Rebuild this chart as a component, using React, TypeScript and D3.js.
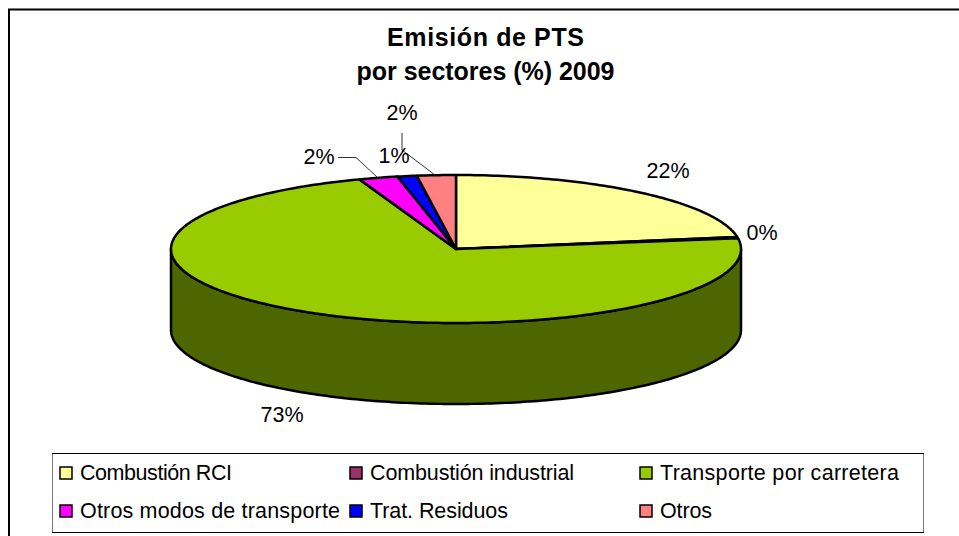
import React from "react";
import * as d3 from "d3";

const categories = ["Combustión RCI", "Combustión industrial", "Transporte por carretera", "Otros modos de transporte", "Trat. Residuos", "Otros"];
const values = [22.4, 0.3, 71.8, 2.2, 1.1, 2.2];
const colors = ["#FFFF99", "#993366", "#99CC00", "#FF00FF", "#0000FF", "#FF8080"];
const valueLabels = ["22%", "0%", "73%", "2%", "1%", "2%"];
const labelPositions: [number, number][] = [[668, 178], [762, 240], [282, 422], [319, 164], [394, 163], [402, 120]];
const titleLines = ["Emisión de PTS", "por sectores (%) 2009"];
const titleWidths = [197, 258];
const legendWidths = [152, 204, 239, 260, 138, 52];
const sideColor = "#4D6600";

const cx = 456, cy = 249, rx = 285, ry = 74, depth = 81;
const font = "'Liberation Sans', Arial, sans-serif";

const arcs = d3.pie<number>().sort(null)(values);
const px = d3.scaleLinear().domain([-1, 1]).range([cx - rx, cx + rx]);
const py = d3.scaleLinear().domain([-1, 1]).range([cy - ry, cy + ry]);
const pt = (a: number, dy = 0): [number, number] => [px(Math.sin(a)), py(-Math.cos(a)) + dy];
const samples = (a0: number, a1: number, dy = 0) => {
  const n = Math.max(2, Math.ceil(Math.abs(a1 - a0) * 60));
  return d3.range(n + 1).map((i) => pt(a0 + ((a1 - a0) * i) / n, dy));
};
const line = d3.line();
const wedge = (a0: number, a1: number) => line([[cx, cy], ...samples(a0, a1)])! + "Z";
const side = line([...samples(Math.PI / 2, (3 * Math.PI) / 2), ...samples((3 * Math.PI) / 2, Math.PI / 2, depth)])! + "Z";

const legendCols = [60, 350, 640];
const legendRows = [467, 505];

export default function App() {
  return (
    <svg width={959} height={536} style={{ position: "absolute", left: 0, top: 0, background: "#fff" }} fontFamily={font}>
      <rect x={9} y={9.5} width={970} height={560} fill="#fff" stroke="#000" strokeWidth={2} />
      <g textAnchor="middle" fontWeight="bold" fontSize={25} fill="#000">
        {titleLines.map((t, i) => (
          <text key={t} x={485.5} y={46 + i * 34} textLength={titleWidths[i]} lengthAdjust="spacing">{t}</text>
        ))}
      </g>
      <path d={side} fill={sideColor} stroke="#000" strokeWidth={2.5} strokeLinejoin="round" />
      {arcs.map((a, i) => (
        <path key={i} d={wedge(a.startAngle, a.endAngle)} fill={colors[i]} stroke="#000" strokeWidth={2.5} strokeLinejoin="round" />
      ))}
      <path d="M338,157.5H356L377,177" fill="none" stroke="#333" strokeWidth={1} />
      <path d="M402,133V150L435,175" fill="none" stroke="#333" strokeWidth={1} />
      <g textAnchor="middle" fontSize={21.5} fill="#000">
        {valueLabels.map((t, i) => (
          <text key={i} x={labelPositions[i][0]} y={labelPositions[i][1]}>{t}</text>
        ))}
      </g>
      <path d="M52.5,453V533M923.5,453V533" stroke="#777" strokeWidth={1} />
      <path d="M52,453.5H924M52,532.5H924" stroke="#000" strokeWidth={1} />
      {categories.map((c, i) => {
        const x = legendCols[i % 3], y = legendRows[Math.floor(i / 3)];
        return (
          <g key={c}>
            <rect x={x} y={y} width={12} height={12} fill={colors[i]} stroke="#000" strokeWidth={1.5} />
            <text x={x + 20} y={y + 13} fontSize={21.5} fill="#000" textLength={legendWidths[i]} lengthAdjust="spacing">{c}</text>
          </g>
        );
      })}
    </svg>
  );
}
